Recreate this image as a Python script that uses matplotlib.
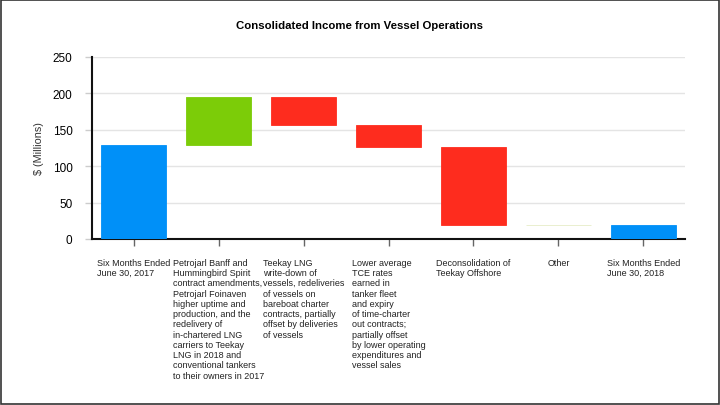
import matplotlib.pyplot as plt
from matplotlib.patches import Rectangle

plt.rcParams['font.family'] = ['Liberation Sans', 'DejaVu Sans']

categories = [
    "Six Months Ended\nJune 30, 2017",
    "Petrojarl Banff and\nHummingbird Spirit\ncontract amendments,\nPetrojarl Foinaven\nhigher uptime and\nproduction, and the\nredelivery of\nin-chartered LNG\ncarriers to Teekay\nLNG in 2018 and\nconventional tankers\nto their owners in 2017",
    "Teekay LNG\nwrite-down of\nvessels, redeliveries\nof vessels on\nbareboat charter\ncontracts, partially\noffset by deliveries\nof vessels",
    "Lower average\nTCE rates\nearned in\ntanker fleet\nand expiry\nof time-charter\nout contracts;\npartially offset\nby lower operating\nexpenditures and\nvessel sales",
    "Deconsolidation of\nTeekay Offshore",
    "Other",
    "Six Months Ended\nJune 30, 2018",
]
# bar bottoms and tops ($ millions)
bottoms = [0, 129, 157, 126, 19, 19.2, 0]
tops = [129, 195, 195, 157, 126, 19.6, 19]
colors = ['#0090f8', '#7ccc08', '#fe2c1e', '#fe2c1e', '#fe2c1e', '#e6ecc8', '#0090f8']

fig = plt.figure(figsize=(7.2, 4.06), dpi=100)
ax = fig.add_axes([92 / 720, 1 - 240 / 406, (685 - 92) / 720, 182 / 406])

x = range(len(categories))
heights = [t - b for t, b in zip(tops, bottoms)]
ax.bar(x, heights, bottom=bottoms, width=0.765, color=colors,
       edgecolor=colors, linewidth=0.6, zorder=3)

ax.set_xlim(-0.49, 6.49)
ax.set_ylim(0, 250)
ax.set_yticks([0, 50, 100, 150, 200, 250])
ax.grid(axis='y', color='#e4e4e4', linewidth=1, zorder=0)
for s in ['top', 'right']:
    ax.spines[s].set_visible(False)
for s in ['left', 'bottom']:
    ax.spines[s].set_linewidth(1.5)
    ax.spines[s].set_color('#111111')
ax.tick_params(axis='y', labelsize=8.5, length=5, width=1, color='#cccccc', pad=9)
ax.set_xticks(list(x))
ax.set_xticklabels([])
ax.tick_params(axis='x', length=5, width=1, color='#666666')
ax.set_ylabel('$ (Millions)', fontsize=7.8, color='#333333', labelpad=6)

for i, lab in enumerate(categories):
    ax.annotate(lab, xy=(i, 0), xycoords=('data', 'axes fraction'),
                xytext=(0, -13.5), textcoords='offset points',
                ha='center', va='top', multialignment='left',
                fontsize=6.5, color='#222222', linespacing=1.18,
                annotation_clip=False)

fig.text(0.5, 1 - 26 / 406, 'Consolidated Income from Vessel Operations',
         ha='center', va='center', fontsize=8.2, fontweight='bold')

fig.patches.append(Rectangle((0.001, 0.002), 0.997, 0.996, transform=fig.transFigure,
                             fill=False, edgecolor='#333333', linewidth=1.2))

fig.savefig('out.png', dpi=100)
